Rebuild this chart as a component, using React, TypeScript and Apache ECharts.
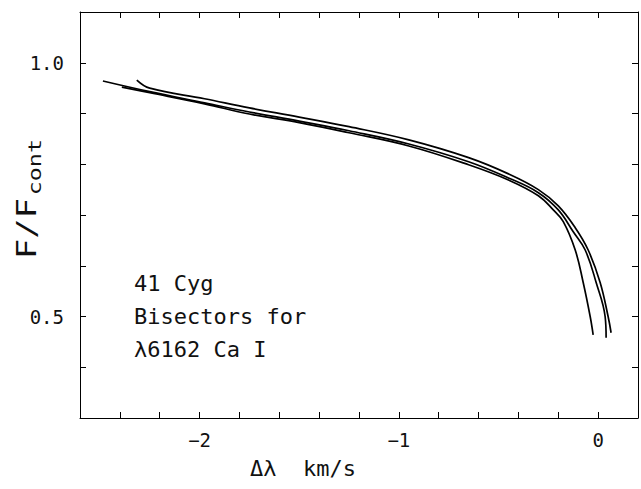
import React, { useEffect, useRef } from "react";
import * as echarts from "echarts";

// Bisector curves: x = Δλ (km/s), y = F/Fcont
const outerX = [-2.315, -2.25, -1.975, -1.75, -1.5, -1.25, -0.95, -0.65, -0.45, -0.30, -0.20, -0.115, -0.05, 0.01, 0.05, 0.065];
const outerY = [0.966, 0.950, 0.929, 0.911, 0.893, 0.874, 0.848, 0.813, 0.781, 0.750, 0.718, 0.675, 0.631, 0.567, 0.500, 0.468];

const middleX = [-2.485, -2.25, -1.975, -1.75, -1.5, -1.25, -0.95, -0.65, -0.45, -0.30, -0.20, -0.125, -0.065, -0.01, 0.035, 0.04];
const middleY = [0.964, 0.943, 0.921, 0.903, 0.885, 0.866, 0.840, 0.805, 0.773, 0.744, 0.710, 0.667, 0.631, 0.567, 0.500, 0.458];

const innerX = [-2.39, -2.25, -1.975, -1.75, -1.5, -1.25, -0.95, -0.65, -0.45, -0.30, -0.225, -0.175, -0.115, -0.075, -0.04, -0.025];
const innerY = [0.952, 0.941, 0.919, 0.899, 0.882, 0.862, 0.836, 0.799, 0.769, 0.738, 0.710, 0.687, 0.631, 0.567, 0.500, 0.464];

const xLabels = [-2, -1, 0];
const yLabels = [0.5, 1.0];
const annotation = ["41 Cyg", "Bisectors for", "λ6162 Ca I"];

const FONT = "DejaVu Sans Mono";

function pairs(xs: number[], ys: number[]) {
  return xs.map((x, i) => [x, ys[i]]);
}

export default function App() {
  const ref = useRef<HTMLDivElement>(null);
  useEffect(() => {
    document.body.style.margin = "0";
    const chart = echarts.init(ref.current!, null, { renderer: "svg" });
    const axisCommon = {
      type: "value" as const,
      splitLine: { show: false },
      axisLine: { show: true, onZero: false, lineStyle: { color: "#000", width: 1 } },
      axisTick: { show: true, inside: true, length: 6, lineStyle: { color: "#000", width: 1 } },
    };
    const xFmt = (v: number) => {
      const hit = xLabels.find((l) => Math.abs(l - v) < 1e-6);
      if (hit === undefined) return "";
      return hit < 0 ? "\u2212" + Math.abs(hit) : String(hit);
    };
    const yFmt = (v: number) => {
      const hit = yLabels.find((l) => Math.abs(l - v) < 1e-6);
      return hit === undefined ? "" : hit.toFixed(1);
    };
    const lineSeries = (xs: number[], ys: number[]) => ({
      type: "line" as const,
      data: pairs(xs, ys),
      smooth: 0.4,
      showSymbol: false,
      lineStyle: { color: "#000", width: 1.7 },
      xAxisIndex: 0,
      yAxisIndex: 0,
    });
    chart.setOption({
      animation: false,
      backgroundColor: "#fff",
      grid: { left: 80, right: 1, top: 12, bottom: 71 },
      xAxis: [
        {
          ...axisCommon,
          position: "bottom",
          min: -2.6,
          max: 0.2,
          interval: 0.2,
          axisLabel: { show: true, formatter: xFmt, fontFamily: FONT, fontSize: 19, color: "#111", margin: 12 },
        },
        {
          ...axisCommon,
          position: "top",
          min: -2.6,
          max: 0.2,
          interval: 0.2,
          axisLabel: { show: false },
        },
      ],
      yAxis: [
        {
          ...axisCommon,
          position: "left",
          min: 0.3,
          max: 1.1,
          interval: 0.1,
          axisLabel: { show: true, formatter: yFmt, fontFamily: FONT, fontSize: 19, color: "#111", margin: 16 },
        },
        {
          ...axisCommon,
          position: "right",
          min: 0.3,
          max: 1.1,
          interval: 0.1,
          axisLabel: { show: false },
        },
      ],
      series: [lineSeries(outerX, outerY), lineSeries(middleX, middleY), lineSeries(innerX, innerY)],
      graphic: [
        ...annotation.map((t, i) => ({
          type: "text",
          left: 134,
          top: 272 + i * 33,
          style: { text: t, fontFamily: FONT, fontSize: 22, fill: "#111" },
        })),
        {
          type: "text",
          left: 250,
          top: 457,
          style: { text: "\u0394\u03bb  km/s", fontFamily: FONT, fontSize: 22, fill: "#111" },
        },
        {
          type: "group",
          x: 40,
          y: 259,
          rotation: Math.PI / 2,
          scaleX: 1.3,
          children: [
            {
              type: "text",
              x: 0,
              y: 0,
              style: { text: "F/F", fontFamily: FONT, fontSize: 26, fill: "#111", align: "left", verticalAlign: "bottom" },
            },
            {
              type: "text",
              x: 49,
              y: 4,
              style: { text: "cont", fontFamily: FONT, fontSize: 18, fill: "#111", align: "left", verticalAlign: "bottom" },
            },
          ],
        },
      ],
    });
    return () => chart.dispose();
  }, []);
  return <div ref={ref} style={{ width: 641, height: 489 }} />;
}
